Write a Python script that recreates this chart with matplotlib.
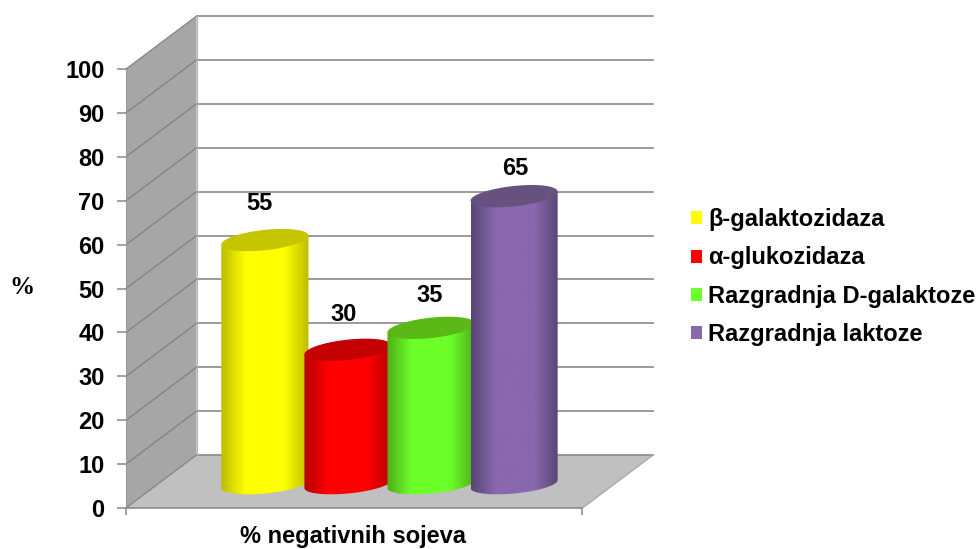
import numpy as np
import matplotlib
matplotlib.use("Agg")
import matplotlib.pyplot as plt
from matplotlib.colors import LinearSegmentedColormap
from matplotlib.patches import Patch, PathPatch, Polygon
from matplotlib.path import Path

plt.rcParams['font.family'] = ['Liberation Sans', 'DejaVu Sans']
plt.rcParams['font.weight'] = 'bold'

names = ["β-galaktozidaza", "α-glukozidaza", "Razgradnja D-galaktoze", "Razgradnja laktoze"]
values = [55, 30, 35, 65]
y_ticks = [0, 10, 20, 30, 40, 50, 60, 70, 80, 90, 100]

# side edge, side centre, top cap
edge_cols = ["#BDBD00", "#B80000", "#4FAE17", "#574673"]
mid_cols = ["#FFFF00", "#FF0000", "#6CFF2A", "#8968AE"]
cap_cols = ["#C6C600", "#C40000", "#5BB816", "#67517F"]

# depth of the box in axis units
dx = 70.5 / 456
dy = 53 / 4.39
bar_x = [0.227, 0.409, 0.591, 0.773]
bar_a = 43.5 / 456
cap_b = 10.2 / 4.39
cap_s = 4.5 / 4.39
foot_b = 9.5 / 4.39
foot_s = 4 / 4.39
foot_drop = 2.5 / 4.39
label_off = [(-6, 37), (-4, 35), (-1, 32), (1, 28)]

wall_col = "#A6A6A6"
floor_col = "#C0C0C0"
line_col = "#8A8A8A"

fig = plt.figure(figsize=(9.8, 5.49), dpi=100)
ax = fig.add_axes([126/980, 1-508/549, 527/980, 492/549])
ax.set_xlim(0, 1 + dx)
ax.set_ylim(0, 100 + dy)

# box: side wall, floor, back wall lines
ax.add_patch(Polygon([(0, 0), (dx, dy), (dx, 100+dy), (0, 100)], fc=wall_col, ec="none", zorder=1))
ax.add_patch(Polygon([(0, 0), (1, 0), (1+dx, dy), (dx, dy)], fc=floor_col, ec="none", zorder=1))
for v in y_ticks:
    ax.plot([0, dx], [v, v+dy], color="#7E7E7E", lw=0.8, zorder=2, clip_on=False)
    ax.plot([dx, 1+dx], [v+dy, v+dy], color=line_col, lw=1.2, zorder=2, clip_on=False)
ax.plot([dx, dx], [dy, 100+dy], color="#B4B4B4", lw=0.8, zorder=2)
ax.plot([1, 1+dx], [0, dy], color="#A8A8A8", lw=1, zorder=2)


def cylinder(cx, top, col_e, col_m, col_c, z):
    base = dy / 2 - foot_drop
    t_low = np.linspace(np.pi, 2*np.pi, 60)
    xs = cx + bar_a*np.cos(t_low)
    low = base + foot_s*np.cos(t_low) + foot_b*np.sin(t_low)
    verts = [(cx-bar_a, top-cap_s)] + list(zip(xs, low)) + [(cx+bar_a, top+cap_s), (cx-bar_a, top-cap_s)]
    body = PathPatch(Path(verts), fc="none", ec="none", transform=ax.transData, zorder=z)
    ax.add_patch(body)
    cmap = LinearSegmentedColormap.from_list("side", [(0, col_e), (0.28, col_m), (0.72, col_m), (1, col_e)])
    im = ax.imshow(np.linspace(0, 1, 128)[None, :], cmap=cmap, aspect='auto', zorder=z,
                   extent=[cx-bar_a, cx+bar_a, 0, top+cap_s+1])
    im.set_clip_path(body)
    t = np.linspace(0, 2*np.pi, 120)
    ax.add_patch(Polygon(np.column_stack([cx + bar_a*np.cos(t), top + cap_s*np.cos(t) + cap_b*np.sin(t)]),
                         fc=col_c, ec="none", zorder=z+0.5))


for i in range(len(values)):
    cx = bar_x[i] + dx/2
    top = values[i] + dy/2
    cylinder(cx, top, edge_cols[i], mid_cols[i], cap_cols[i], 3+i)
    ax.annotate(str(values[i]), (cx, top), xytext=(label_off[i][0]*0.72, label_off[i][1]*0.72),
                textcoords="offset points", ha="center", va="center", fontsize=17, color="black", zorder=10)

ax.set_xlim(0, 1 + dx)
ax.set_ylim(0, 100 + dy)
ax.patch.set_visible(False)

for s in ["top", "right"]:
    ax.spines[s].set_visible(False)
ax.spines["left"].set_bounds(0, 100)
ax.spines["bottom"].set_bounds(0, 1)
ax.spines["left"].set_color("#9A9A9A")
ax.spines["bottom"].set_color(line_col)
ax.spines["left"].set_linewidth(0.8)
ax.spines["bottom"].set_linewidth(1.2)
ax.set_yticks(y_ticks)
ax.set_xticks([0, 1])
ax.set_xticklabels([])
ax.tick_params(axis="y", length=6.5, width=1.1, color=line_col, pad=9, labelsize=17)
ax.tick_params(axis="x", length=5, width=1.1, color=line_col)

fig.text(353/980, 1-537/549, "% negativnih sojeva", ha="center", va="center", fontsize=17)
fig.text(22/980, 1-288/549, "%", ha="center", va="center", fontsize=18,
         family=["Liberation Serif"], weight="bold")

handles = [Patch(fc=c, ec="none") for c in mid_cols]
fig.legend(handles, names, loc="center left", bbox_to_anchor=(691/980, 1-277/549), frameon=False,
           fontsize=17, handlelength=0.47, handleheight=0.47, handletextpad=0.25, labelspacing=0.64,
           borderpad=0, borderaxespad=0)

fig.savefig("out.png", dpi=100)
